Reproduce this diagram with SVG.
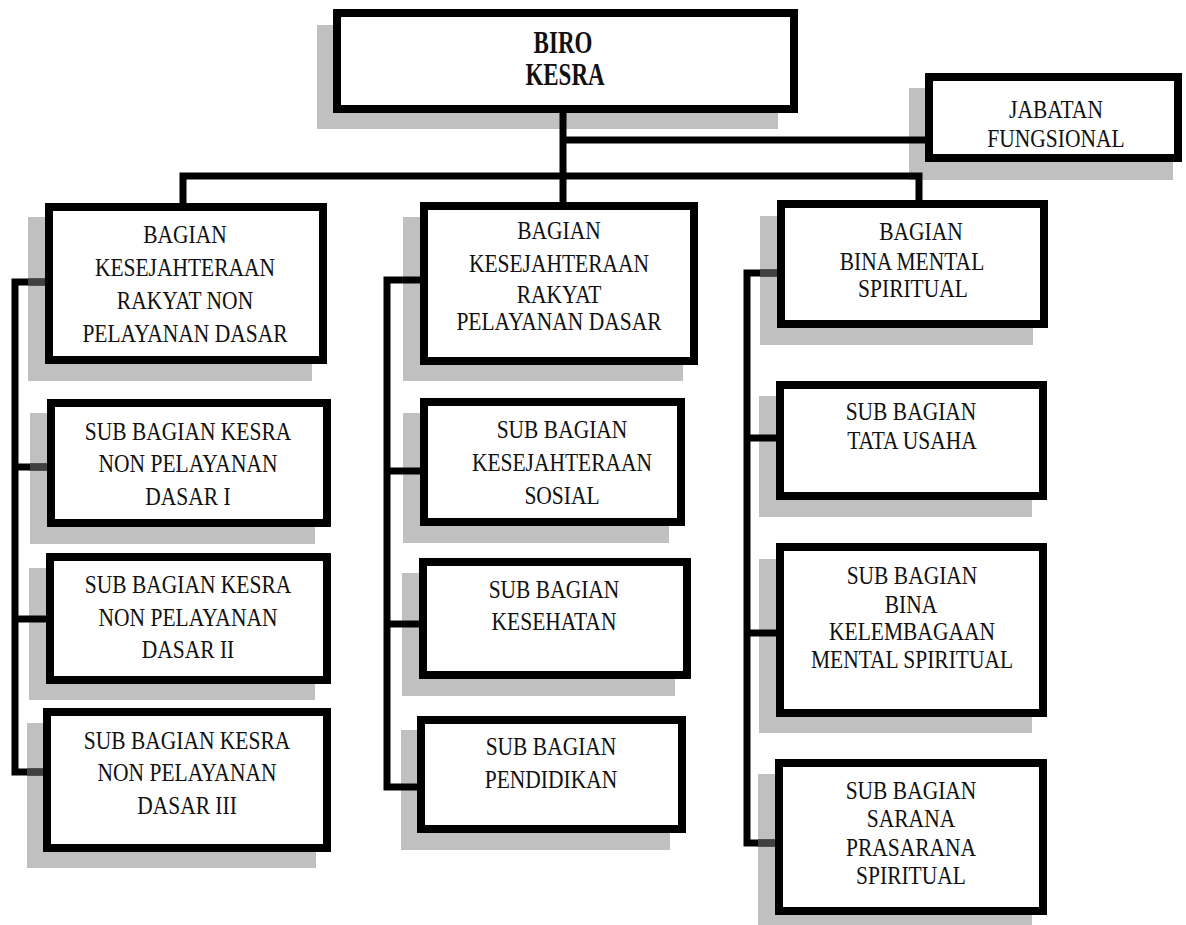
<svg xmlns="http://www.w3.org/2000/svg" width="1186" height="925" viewBox="0 0 1186 925">
<style>
.sh{fill:#c0c0c0;stroke:none}
.bx{fill:#fff;stroke:#000;stroke-width:8}
.t{font-family:"Liberation Serif","Times New Roman",serif;font-size:21.5px;text-anchor:middle;fill:#111}
.tb{font-family:"Liberation Serif","Times New Roman",serif;font-size:23px;font-weight:bold;text-anchor:middle;fill:#111}
.ln{fill:none;stroke:#000;stroke-width:7;stroke-linejoin:miter;stroke-linecap:butt}
.dim{fill:none;stroke:#404040;stroke-width:7}
</style>
<rect width="1186" height="925" fill="#fff"/>

<g id="biro">
<rect class="sh" x="317" y="25" width="461" height="104"/>
<rect class="bx" x="337" y="13" width="457" height="96"/>
<text class="tb" transform="translate(563,53) scale(1,1.35)">BIRO</text>
<text class="tb" transform="translate(565,85) scale(1,1.35)">KESRA</text>
</g>

<g id="jabatan">
<rect class="sh" x="909" y="88" width="264" height="92"/>
<rect class="bx" x="929" y="77" width="249" height="81"/>
<text class="t" transform="translate(1056,118) scale(1,1.18)">JABATAN</text>
<text class="t" transform="translate(1056,147) scale(1,1.18)">FUNGSIONAL</text>
</g>

<g id="a1">
<rect class="sh" x="28" y="217" width="284" height="164"/>
<rect class="bx" x="49" y="207" width="274" height="153"/>
<text class="t" transform="translate(185,243) scale(1,1.18)">BAGIAN</text>
<text class="t" transform="translate(185,276) scale(1,1.18)">KESEJAHTERAAN</text>
<text class="t" transform="translate(185,309) scale(1,1.18)">RAKYAT NON</text>
<text class="t" transform="translate(185,342) scale(1,1.18)">PELAYANAN DASAR</text>
</g>

<g id="a2">
<rect class="sh" x="30" y="413" width="285" height="131"/>
<rect class="bx" x="51" y="403" width="276" height="120"/>
<text class="t" transform="translate(188,440) scale(1,1.18)">SUB BAGIAN KESRA</text>
<text class="t" transform="translate(188,472) scale(1,1.18)">NON PELAYANAN</text>
<text class="t" transform="translate(188,505) scale(1,1.18)">DASAR I</text>
</g>

<g id="a3">
<rect class="sh" x="29" y="568" width="286" height="132"/>
<rect class="bx" x="50" y="557" width="277" height="123"/>
<text class="t" transform="translate(188,593) scale(1,1.18)">SUB BAGIAN KESRA</text>
<text class="t" transform="translate(188,626) scale(1,1.18)">NON PELAYANAN</text>
<text class="t" transform="translate(188,658) scale(1,1.18)">DASAR II</text>
</g>

<g id="a4">
<rect class="sh" x="27" y="723" width="289" height="145"/>
<rect class="bx" x="47" y="712" width="280" height="136"/>
<text class="t" transform="translate(187,749) scale(1,1.18)">SUB BAGIAN KESRA</text>
<text class="t" transform="translate(187,781) scale(1,1.18)">NON PELAYANAN</text>
<text class="t" transform="translate(187,814) scale(1,1.18)">DASAR III</text>
</g>

<g id="b1">
<rect class="sh" x="403" y="217" width="280" height="164"/>
<rect class="bx" x="424" y="206" width="270" height="155"/>
<text class="t" transform="translate(559,239) scale(1,1.18)">BAGIAN</text>
<text class="t" transform="translate(559,272) scale(1,1.18)">KESEJAHTERAAN</text>
<text class="t" transform="translate(559,303) scale(1,1.18)">RAKYAT</text>
<text class="t" transform="translate(559,330) scale(1,1.18)">PELAYANAN DASAR</text>
</g>

<g id="b2">
<rect class="sh" x="403" y="413" width="266" height="130"/>
<rect class="bx" x="424" y="402" width="257" height="120"/>
<text class="t" transform="translate(562,438) scale(1,1.18)">SUB BAGIAN</text>
<text class="t" transform="translate(562,471) scale(1,1.18)">KESEJAHTERAAN</text>
<text class="t" transform="translate(562,504) scale(1,1.18)">SOSIAL</text>
</g>

<g id="b3">
<rect class="sh" x="402" y="573" width="273" height="123"/>
<rect class="bx" x="423" y="562" width="264" height="113"/>
<text class="t" transform="translate(554,598) scale(1,1.18)">SUB BAGIAN</text>
<text class="t" transform="translate(554,630) scale(1,1.18)">KESEHATAN</text>
</g>

<g id="b4">
<rect class="sh" x="401" y="730" width="269" height="120"/>
<rect class="bx" x="421" y="720" width="261" height="109"/>
<text class="t" transform="translate(551,755) scale(1,1.18)">SUB BAGIAN</text>
<text class="t" transform="translate(551,788) scale(1,1.18)">PENDIDIKAN</text>
</g>

<g id="c1">
<rect class="sh" x="760" y="216" width="273" height="129"/>
<rect class="bx" x="781" y="204" width="263" height="120"/>
<text class="t" transform="translate(921,240) scale(1,1.18)">BAGIAN</text>
<text class="t" transform="translate(912,270) scale(1,1.18)">BINA MENTAL</text>
<text class="t" transform="translate(913,297) scale(1,1.18)">SPIRITUAL</text>
</g>

<g id="c2">
<rect class="sh" x="759" y="396" width="273" height="121"/>
<rect class="bx" x="780" y="385" width="263" height="111"/>
<text class="t" transform="translate(911,420) scale(1,1.18)">SUB BAGIAN</text>
<text class="t" transform="translate(912,449) scale(1,1.18)">TATA USAHA</text>
</g>

<g id="c3">
<rect class="sh" x="759" y="559" width="273" height="174"/>
<rect class="bx" x="780" y="547" width="263" height="166"/>
<text class="t" transform="translate(912,584) scale(1,1.18)">SUB BAGIAN</text>
<text class="t" transform="translate(911,613) scale(1,1.18)">BINA</text>
<text class="t" transform="translate(912,640) scale(1,1.18)">KELEMBAGAAN</text>
<text class="t" transform="translate(912,668) scale(1,1.18)">MENTAL SPIRITUAL</text>
</g>

<g id="c4">
<rect class="sh" x="758" y="774" width="274" height="151"/>
<rect class="bx" x="779" y="763" width="264" height="148"/>
<text class="t" transform="translate(911,799) scale(1,1.18)">SUB BAGIAN</text>
<text class="t" transform="translate(911,827) scale(1,1.18)">SARANA</text>
<text class="t" transform="translate(911,856) scale(1,1.18)">PRASARANA</text>
<text class="t" transform="translate(911,884) scale(1,1.18)">SPIRITUAL</text>
</g>

<g id="connectors">
<path class="ln" d="M563,112 V203"/>
<path class="ln" d="M563,140 H926"/>
<path class="ln" d="M183,204 V176 H919 V201"/>
<path class="ln" d="M46,282 H15 V772 H44"/>
<path class="ln" d="M15,467 H48"/>
<path class="ln" d="M15,619 H47"/>
<path class="ln" d="M421,280 H387 V787 H418"/>
<path class="ln" d="M387,471 H421"/>
<path class="ln" d="M387,624 H420"/>
<path class="ln" d="M778,273 H747 V843 H776"/>
<path class="ln" d="M747,438 H777"/>
<path class="ln" d="M747,633 H777"/>
<path class="dim" d="M28,282 H45"/>
<path class="dim" d="M30,467 H47"/>
<path class="dim" d="M27,772 H43"/>
<path class="dim" d="M760,273 H777"/>
<path class="dim" d="M758,843 H775"/>
</g>
</svg>
